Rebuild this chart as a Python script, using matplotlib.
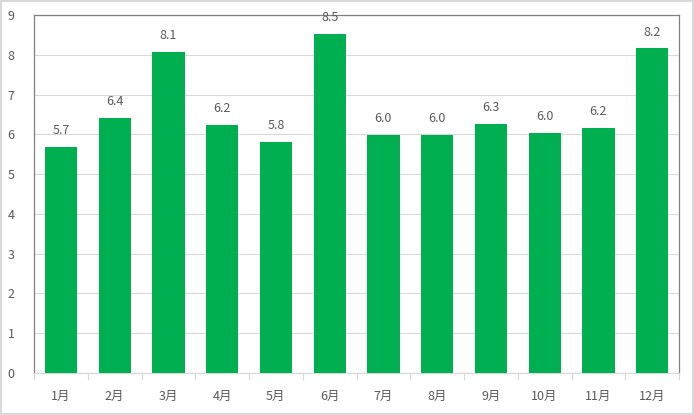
import matplotlib
matplotlib.use("Agg")
import matplotlib.pyplot as plt
from matplotlib.patches import Rectangle

months = ["1月", "2月", "3月", "4月", "5月", "6月", "7月", "8月", "9月", "10月", "11月", "12月"]
values = [5.68, 6.42, 8.08, 6.23, 5.81, 8.53, 5.98, 5.98, 6.26, 6.03, 6.16, 8.16]

plt.rcParams['font.family'] = ['Noto Sans CJK JP', 'DejaVu Sans']
txt = "#595959"

fig = plt.figure(figsize=(6.94, 4.15), dpi=100)
ax = fig.add_axes([34 / 694, 42 / 415, 645 / 694, 358 / 415])

x = list(range(len(months)))
bars = ax.bar(x, values, width=0.6, color="#00B050", zorder=3)
for xi, v in zip(x, values):
    ax.annotate("%.1f" % v, (xi, v), xytext=(0, 7), textcoords="offset points",
                ha="center", va="bottom", fontsize=9, color=txt)

ax.set_xlim(-0.5, len(months) - 0.5)
ax.set_ylim(0, 9)
ax.set_yticks(range(10))
ax.grid(axis="y", color="#d9d9d9", linewidth=0.8, zorder=0)
ax.set_xticks(x)
ax.set_xticklabels(months)
ax.set_xticks([i - 0.5 for i in range(len(months) + 1)], minor=True)
ax.tick_params(axis="x", which="major", length=0, pad=12, labelsize=9, labelcolor=txt)
ax.tick_params(axis="x", which="minor", length=5, color="#d9d9d9", width=0.8)
ax.tick_params(axis="y", length=0, pad=14, labelsize=9, labelcolor=txt)

ax.spines["bottom"].set_color("#d9d9d9")
ax.spines["left"].set_color("#808080")
ax.spines["top"].set_color("#808080")
ax.spines["right"].set_color("#808080")
for s in ax.spines.values():
    s.set_linewidth(0.9)

fig.patches.append(Rectangle((0.001, 0.002), 0.997, 0.995, transform=fig.transFigure,
                             fill=False, edgecolor="#d9d9d9", linewidth=1.5))

fig.savefig("out.png", dpi=100)
